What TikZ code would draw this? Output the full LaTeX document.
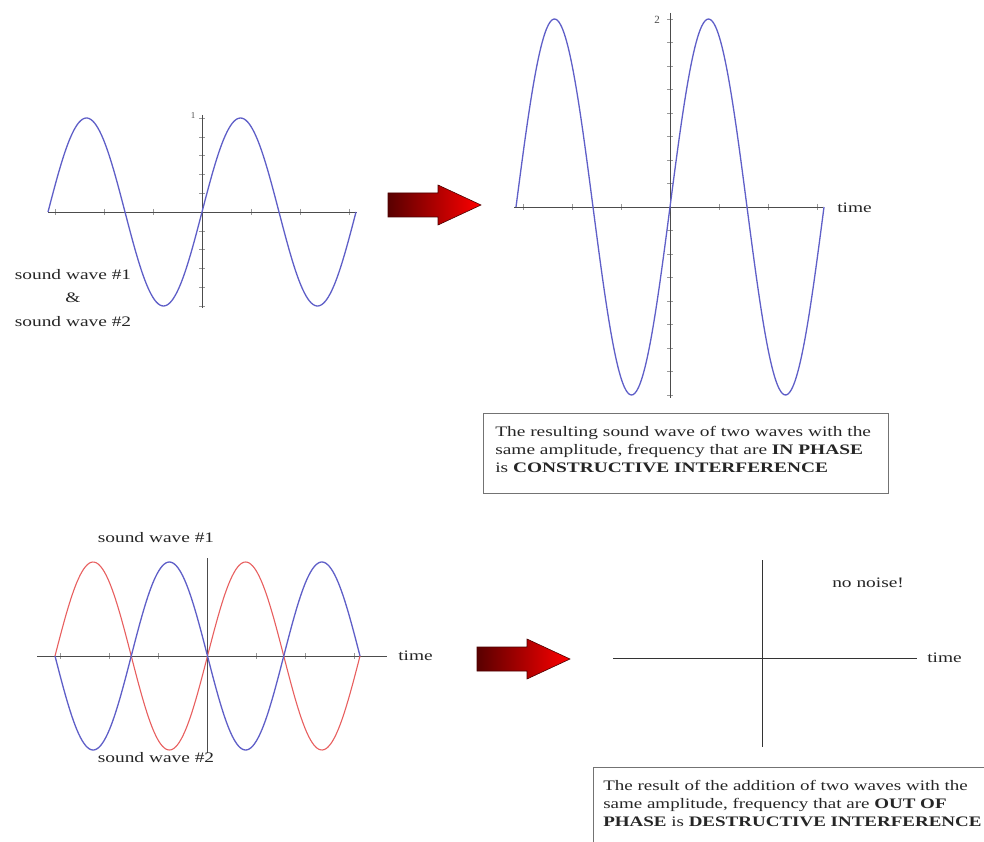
\documentclass[tikz,border=0pt]{standalone}
\usepackage{fontspec}
\setmainfont{Liberation Serif}
\begin{document}
\begin{tikzpicture}[x=1pt,y=-1pt,
  axis/.style={draw=black!70, line width=0.8pt},
  tickmark/.style={draw=black!40, line width=0.5pt},
  bluewave/.style={draw={rgb,255:red,95;green,95;blue,200}, line width=1.3pt},
  redwave/.style={draw={rgb,255:red,232;green,95;blue,95}, line width=1.1pt},
  txt/.style={font=\fontsize{14.5}{18}\selectfont, xscale=1.337, text=black!85, inner sep=0pt},
  smalltxt/.style={font=\fontsize{9}{10}\selectfont, text=black!70, inner sep=0pt},
  infobox/.style={draw=black!55, line width=0.9pt},
  redarrow/.pic={
    \shade[left color=red!35!black, middle color=red!90!black, right color=red,
           draw=red!30!black, line width=0.6pt]
      (0,-12) -- (50,-12) -- (50,-20) -- (93,0) -- (50,20) -- (50,12) -- (0,12) -- cycle;
  }
]
\useasboundingbox (0,0) rectangle (984,842);
\fill[white] (0,0) rectangle (984,842);

% ---------- top left: two identical waves ----------
\coordinate (tlL) at (48,212);  \coordinate (tlR) at (357,212);
\coordinate (tlT) at (202,115); \coordinate (tlB) at (202,308);
\foreach \i in {-3,...,3} \draw[tickmark] ({202+49*\i},209) -- ({202+49*\i},215);
\foreach \i in {-5,...,5} \draw[tickmark] (199,{212+18.8*\i}) -- (205,{212+18.8*\i});
\draw[axis] (tlL) -- (tlR);
\draw[axis] (tlT) -- (tlB);
\draw[bluewave, domain=0:308, samples=180, smooth] plot ({48+\x},{212-94*sin(\x/154*360)});
\node[smalltxt] (one) at (193,116) {1};
\node[txt, align=center, font=\fontsize{14.5}{23.5}\selectfont] (lab1) at (73,298)
  {sound wave \#1\\ \&\\ sound wave \#2};

% ---------- top arrow ----------
\pic at (388,205) {redarrow};

% ---------- top right: constructive sum ----------
\coordinate (trL) at (514,207); \coordinate (trR) at (823,207);
\coordinate (trT) at (670,13);  \coordinate (trB) at (670,398);
\foreach \i in {-3,...,3} \draw[tickmark] ({670+49*\i},204) -- ({670+49*\i},210);
\foreach \i in {-8,...,8} \draw[tickmark] (667,{207+23.5*\i}) -- (673,{207+23.5*\i});
\draw[axis] (trL) -- (trR);
\draw[axis] (trT) -- (trB);
\draw[bluewave, domain=0:308, samples=180, smooth] plot ({516+\x},{207-188*sin(\x/154*360)});
\node[smalltxt, font=\fontsize{11}{12}\selectfont] (two) at (657,20) {2};
\node[txt, anchor=west] (time1) at (837,208) {time};

% ---------- box 1 ----------
\draw[infobox] (483,413) rectangle (888,493);
\node[txt, anchor=west, align=left] (t1) at (495,450)
  {The resulting sound wave of two waves with the\\
   same amplitude, frequency that are \textbf{IN PHASE}\\
   is \textbf{CONSTRUCTIVE INTERFERENCE}};

% ---------- bottom left: out of phase waves ----------
\coordinate (blL) at (37,656);  \coordinate (blR) at (387,656);
\coordinate (blT) at (207,558); \coordinate (blB) at (207,753);
\foreach \i in {-3,...,3} \draw[tickmark] ({207+49*\i},653) -- ({207+49*\i},659);
\draw[axis] (blL) -- (blR);
\draw[axis] (blT) -- (blB);
\draw[redwave, domain=0:305, samples=180, smooth] plot ({55+\x},{656-94*sin(\x/152.5*360)});
\draw[bluewave, domain=0:305, samples=180, smooth] plot ({55+\x},{656+94*sin(\x/152.5*360)});
\node[txt] (sw1) at (156,538) {sound wave \#1};
\node[txt] (sw2) at (156,758) {sound wave \#2};
\node[txt, anchor=west] (time2) at (398,656) {time};

% ---------- bottom arrow ----------
\pic at (477,659) {redarrow};

% ---------- bottom right: silence ----------
\coordinate (brL) at (613,658); \coordinate (brR) at (917,658);
\coordinate (brT) at (762,560); \coordinate (brB) at (762,747);
\draw[axis, draw=black!80] (brL) -- (brR);
\draw[axis, draw=black!80] (brT) -- (brB);
\node[txt, anchor=west] (time3) at (927,658) {time};
\node[txt, anchor=west] (noise) at (832,583) {no noise!};

% ---------- box 2 ----------
\draw[infobox] (593,767) rectangle (1000,860);
\node[txt, xscale=1.31/1.337, anchor=west, align=left] (t2) at (603,803)
  {The result of the addition of two waves with the\\
   same amplitude, frequency that are \textbf{OUT OF}\\
   \textbf{PHASE} is \textbf{DESTRUCTIVE INTERFERENCE}};
\end{tikzpicture}
\end{document}
